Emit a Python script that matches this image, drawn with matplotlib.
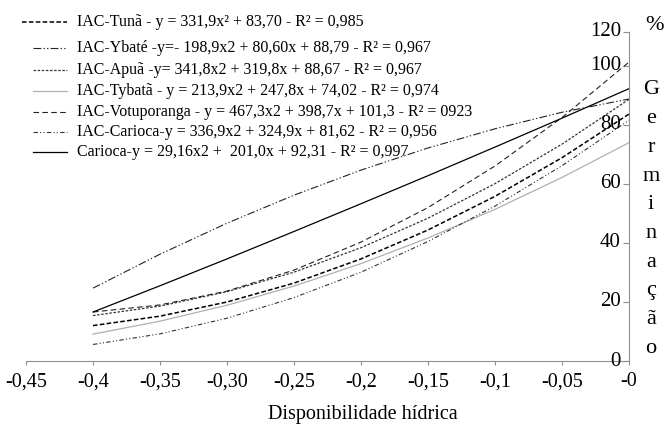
import matplotlib
matplotlib.use("Agg")
import matplotlib.pyplot as plt
from matplotlib.lines import Line2D

plt.rcParams['font.family'] = ['Liberation Serif', 'DejaVu Serif']

# water availability (x) and germination (%)
disponibilidade = [-0.40, -0.35, -0.30, -0.25, -0.20, -0.15, -0.10, -0.05, 0.0]

tuna = [12.0, 15.2, 20.0, 26.4, 34.6, 44.4, 55.8, 68.9, 83.7]
ybate = [24.7, 36.2, 46.7, 56.2, 64.7, 72.2, 78.7, 84.3, 88.8]
apua = [15.4, 18.6, 23.5, 30.1, 38.4, 48.4, 60.1, 73.5, 88.7]
tybata = [9.1, 13.5, 18.9, 25.4, 33.0, 41.7, 51.4, 62.2, 74.0]
votuporanga = [16.6, 19.0, 23.7, 30.8, 40.3, 52.0, 66.1, 82.5, 101.3]
iac_carioca = [5.6, 9.2, 14.5, 21.5, 30.1, 40.5, 52.5, 66.2, 81.6]
carioca = [16.6, 25.5, 34.6, 43.9, 53.3, 62.8, 72.5, 82.3, 92.3]

legendas = [
    'IAC-Tunã - y = 331,9x² + 83,70 - R² = 0,985',
    'IAC-Ybaté -y=- 198,9x2 + 80,60x + 88,79 - R² = 0,967',
    'IAC-Apuã -y= 341,8x2 + 319,8x + 88,67 - R² = 0,967',
    'IAC-Tybatã - y = 213,9x2 + 247,8x + 74,02 - R² = 0,974',
    'IAC-Votuporanga - y = 467,3x2 + 398,7x + 101,3 - R² = 0923',
    'IAC-Carioca-y = 336,9x2 + 324,9x + 81,62 - R² = 0,956',
    'Carioca-y = 29,16x2 +  201,0x + 92,31 - R² = 0,997',
]

x_ticks = [-0.45, -0.40, -0.35, -0.30, -0.25, -0.20, -0.15, -0.10, -0.05, 0.0]
x_labels = ['-0,45', '-0,4', '-0,35', '-0,30', '-0,25', '-0,2', '-0,15', '-0,1', '-0,05', '-0']
y_ticks = [0, 20, 40, 60, 80, 100, 111.5]
y_labels = ['0', '20', '40', '60', '80', '100', '120']

series = [tuna, ybate, apua, tybata, votuporanga, iac_carioca, carioca]
estilos = [
    dict(color='black', lw=1.1, ls=(0, (3, 1.5))),
    dict(color='#222222', lw=0.8, ls=(0, (7, 2, 1.2, 2, 1.2, 2))),
    dict(color='#333333', lw=0.9, ls=(0, (2, 1.3))),
    dict(color='#b0b0b0', lw=0.9, ls='-'),
    dict(color='#222222', lw=0.8, ls=(0, (5, 3))),
    dict(color='#333333', lw=0.8, ls=(0, (4, 2, 1, 2, 1, 2))),
    dict(color='black', lw=0.9, ls='-'),
]

W, H = 671, 424
fig = plt.figure(figsize=(6.71, 4.24), dpi=100)
ax = fig.add_axes([26 / W, 1 - 361 / H, (629 - 26) / W, (361 - 32) / H])

for ys, st in zip(series, estilos):
    ax.plot(disponibilidade, ys, **st)

ax.set_xlim(-0.45, 0)
ax.set_ylim(0, 111.5)
ax.spines['top'].set_visible(False)
ax.spines['left'].set_visible(False)
ax.spines['bottom'].set_color('#909090')
ax.spines['right'].set_color('#909090')
ax.set_xticks(x_ticks)
ax.set_xticklabels(x_labels)
ax.set_yticks(y_ticks)
ax.set_yticklabels([])
ax.tick_params(axis='x', direction='out', length=3, color='#909090', labelsize=14.5, pad=5)
ax.tick_params(axis='y', direction='in', length=4, color='#909090',
               right=True, left=False, labelleft=False, labelright=False)
# y labels sit just left of the right-hand axis
for yv, lab in zip(y_ticks, y_labels):
    ax.text(1 - 8 / 603, yv, lab, ha='right', va='center', fontsize=15,
            transform=ax.get_yaxis_transform(), clip_on=False)

fig.text(363 / W, 1 - 415 / H, 'Disponibilidade hídrica', ha='center', va='center', fontsize=14.5)

# vertical axis title, one letter per line
fig.text(655 / W, 1 - 25 / H, '%', ha='center', va='center', fontsize=16)
for i, letra in enumerate('Germinação'):
    fig.text(651 / W, 1 - (90 + i * 28.7) / H, letra, ha='center', va='center', fontsize=16)

# hand-built legend
linhas_y = [22, 48, 70, 91, 112, 132, 152]
for i, (lab, st, yl) in enumerate(zip(legendas, estilos, linhas_y)):
    x0 = 22 if i == 0 else 33
    fig.add_artist(Line2D([x0 / W, 67 / W], [1 - yl / H, 1 - yl / H],
                          transform=fig.transFigure, **st))
    fig.text(77 / W, 1 - yl / H, lab, ha='left', va='center', fontsize=11.5)

fig.savefig('out.png', dpi=100)
